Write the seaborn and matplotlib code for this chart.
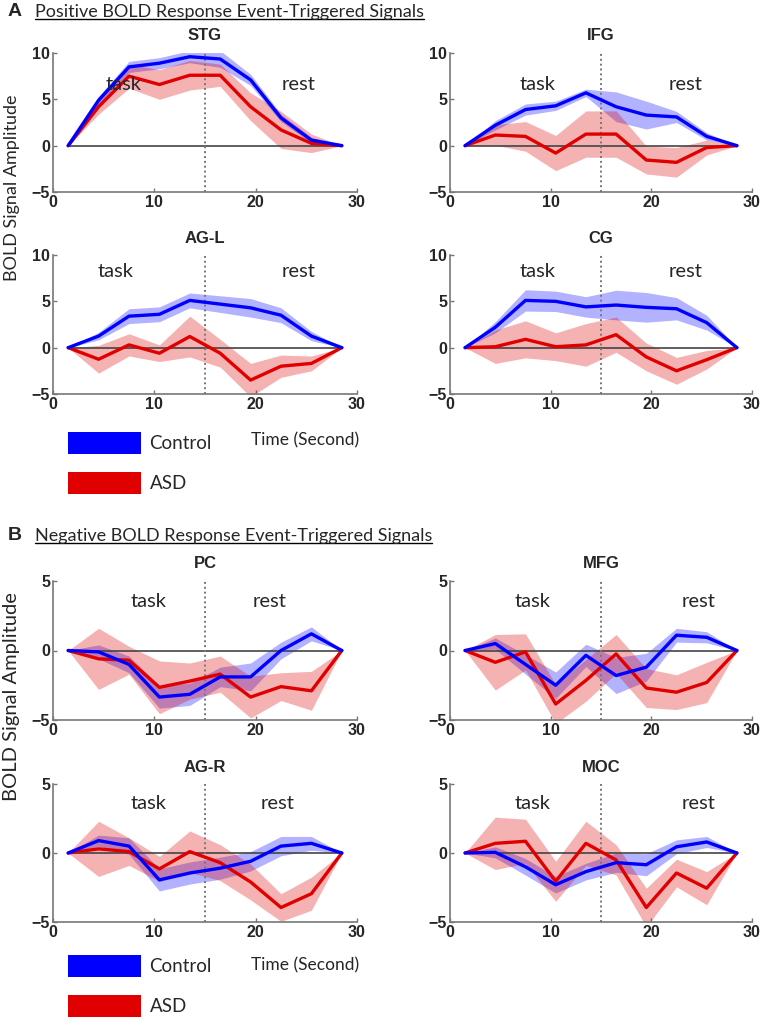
import matplotlib
matplotlib.use("Agg")
import matplotlib.pyplot as plt
import numpy as np
import pandas as pd
import seaborn as sns
from matplotlib.patches import Patch
from matplotlib.lines import Line2D

time = [1.5, 4.5, 7.5, 10.5, 13.5, 16.5, 19.5, 22.5, 25.5, 28.5]

stg_ctrl = [0, 4.9, 8.5, 8.9, 9.6, 9.35, 7.1, 3.0, 0.6, 0]
stg_ctrl_err = [0, 0.4, 0.6, 0.6, 0.65, 0.9, 0.6, 0.4, 0.3, 0]
stg_asd = [0, 4.2, 7.5, 6.6, 7.6, 7.6, 4.2, 1.7, 0.25, 0]
stg_asd_err = [0, 0.8, 1.3, 1.6, 1.6, 1.2, 1.5, 2.0, 1.0, 0]

ifg_ctrl = [0, 2.2, 3.9, 4.3, 5.7, 4.2, 3.3, 3.1, 1.0, 0]
ifg_ctrl_err = [0, 0.5, 0.6, 0.5, 0.4, 1.6, 1.5, 0.6, 0.4, 0]
ifg_asd = [0, 1.15, 1.0, -0.8, 1.25, 1.25, -1.55, -1.8, -0.2, 0]
ifg_asd_err = [0, 1.1, 1.6, 1.9, 2.5, 2.5, 1.5, 1.6, 0.8, 0]

agl_ctrl = [0, 1.25, 3.4, 3.6, 5.1, 4.7, 4.3, 3.5, 1.25, 0]
agl_ctrl_err = [0, 0.4, 0.8, 0.8, 0.8, 0.9, 1.0, 0.8, 0.5, 0]
agl_asd = [0, -1.25, 0.3, -0.6, 1.2, -0.6, -3.5, -2.0, -1.7, 0]
agl_asd_err = [0, 1.5, 1.2, 0.9, 2.2, 1.5, 1.8, 1.2, 0.8, 0]

cg_ctrl = [0, 2.2, 5.1, 5.0, 4.4, 4.6, 4.35, 4.2, 2.7, 0]
cg_ctrl_err = [0, 0.6, 1.15, 1.1, 1.1, 1.6, 1.6, 1.2, 0.8, 0]
cg_asd = [0, 0.1, 0.9, 0.1, 0.3, 1.4, -1.0, -2.5, -1.3, 0]
cg_asd_err = [0, 1.8, 2.0, 1.5, 2.3, 1.9, 1.5, 1.45, 1.0, 0]

pc_ctrl = [0, -0.1, -1.0, -3.35, -3.15, -1.9, -1.9, 0.0, 1.2, 0]
pc_ctrl_err = [0, 0.5, 0.6, 0.8, 0.8, 0.7, 1.0, 0.6, 0.5, 0]
pc_asd = [0, -0.6, -0.7, -2.65, -2.2, -1.7, -3.35, -2.6, -2.9, 0]
pc_asd_err = [0, 2.2, 1.0, 1.9, 1.3, 1.3, 1.5, 1.0, 1.4, 0]

mfg_ctrl = [0, 0.5, -1.0, -2.5, -0.35, -1.8, -1.2, 1.1, 0.95, 0]
mfg_ctrl_err = [0, 0.4, 0.7, 0.95, 0.8, 1.3, 1.0, 0.5, 0.4, 0]
mfg_asd = [0, -0.85, -0.1, -3.85, -2.15, -0.25, -2.7, -3.0, -2.3, 0]
mfg_asd_err = [0, 2.0, 1.3, 1.4, 1.5, 1.4, 1.4, 1.25, 1.45, 0]

agr_ctrl = [0, 0.9, 0.5, -1.95, -1.45, -1.1, -0.6, 0.5, 0.7, 0]
agr_ctrl_err = [0, 0.4, 0.6, 0.8, 0.8, 0.8, 0.7, 0.7, 0.5, 0]
agr_asd = [0, 0.3, 0.1, -1.15, 0.1, -0.7, -2.1, -3.95, -2.95, 0]
agr_asd_err = [0, 2.0, 1.0, 0.9, 1.5, 1.3, 1.3, 1.0, 1.2, 0]

moc_ctrl = [0, 0.05, -1.0, -2.3, -1.35, -0.7, -0.85, 0.45, 0.8, 0]
moc_ctrl_err = [0, 0.4, 0.6, 0.6, 0.6, 0.7, 0.8, 0.5, 0.4, 0]
moc_asd = [0, 0.7, 0.85, -2.05, 0.7, -0.5, -3.95, -1.45, -2.55, 0]
moc_asd_err = [0, 1.9, 1.6, 1.45, 1.6, 1.1, 1.4, 1.0, 1.2, 0]

# (name, control, control err, asd, asd err, task x, rest x, label y)
panels_a = [
    ("STG", stg_ctrl, stg_ctrl_err, stg_asd, stg_asd_err, 7.0, 24.2, 6.6),
    ("IFG", ifg_ctrl, ifg_ctrl_err, ifg_asd, ifg_asd_err, 8.7, 23.4, 6.6),
    ("AG-L", agl_ctrl, agl_ctrl_err, agl_asd, agl_asd_err, 6.2, 24.2, 8.2),
    ("CG", cg_ctrl, cg_ctrl_err, cg_asd, cg_asd_err, 8.7, 23.4, 8.2),
]
panels_b = [
    ("PC", pc_ctrl, pc_ctrl_err, pc_asd, pc_asd_err, 9.4, 21.4, 3.5),
    ("MFG", mfg_ctrl, mfg_ctrl_err, mfg_asd, mfg_asd_err, 8.25, 24.7, 3.5),
    ("AG-R", agr_ctrl, agr_ctrl_err, agr_asd, agr_asd_err, 9.4, 22.2, 3.6),
    ("MOC", moc_ctrl, moc_ctrl_err, moc_asd, moc_asd_err, 8.25, 24.7, 3.6),
]

BLUE = "#0000ff"
RED = "#e00000"
CAL = "Lato"

sns.set_theme(style="white")
plt.rcParams["font.family"] = ["Liberation Sans", "DejaVu Sans"]

W, H = 761, 1026
fig = plt.figure(figsize=(W / 100, H / 100), dpi=100)


def px_axes(left, top, right, bottom):
    return fig.add_axes([left / W, 1 - bottom / H, (right - left) / W, (bottom - top) / H])


def draw_panel(ax, name, ctrl, ctrl_err, asd, asd_err, tx, rx, ly, ylim, yticks):
    c = np.array(ctrl)
    ce = np.array(ctrl_err)
    a = np.array(asd)
    ae = np.array(asd_err)
    ax.fill_between(time, c - ce, c + ce, color=BLUE, alpha=0.3, lw=0)
    ax.fill_between(time, a - ae, a + ae, color=RED, alpha=0.3, lw=0)
    ax.plot([time[0], time[-1]], [0, 0], color="#444444", lw=1.2, zorder=1)
    df = pd.DataFrame({
        "time": time * 2,
        "signal": list(asd) + list(ctrl),
        "group": ["ASD"] * len(time) + ["Control"] * len(time),
    })
    sns.lineplot(data=df, x="time", y="signal", hue="group",
                 hue_order=["ASD", "Control"],
                 palette={"ASD": RED, "Control": BLUE},
                 errorbar=None, legend=False, lw=2.4, ax=ax, zorder=3)
    ax.axvline(15, color="#777777", lw=1.4, ls=(0, (1, 1.5)), zorder=2)
    ax.set_xlim(0, 30)
    ax.set_ylim(*ylim)
    ax.set_xticks([0, 10, 20, 30])
    ax.set_yticks(yticks)
    ax.set_xlabel("")
    ax.set_ylabel("")
    for s in ["top", "right"]:
        ax.spines[s].set_visible(False)
    for s in ["left", "bottom"]:
        ax.spines[s].set_color("#777777")
        ax.spines[s].set_linewidth(1.2)
    ax.tick_params(direction="in", length=3, width=1, color="#777777",
                   labelsize=11.5, pad=2, bottom=True, left=True)
    for lab in ax.get_xticklabels() + ax.get_yticklabels():
        lab.set_fontweight("bold")
    ax.set_title(name, fontsize=12, fontweight="bold", pad=9)
    ax.text(tx, ly, "task", ha="center", va="center", fontsize=14.5, family=CAL)
    ax.text(rx, ly, "rest", ha="center", va="center", fontsize=14.5, family=CAL)


cols = [(53, 357), (450, 752)]
rows_a = [(53, 192), (255, 394)]
rows_b = [(581, 720), (784, 922)]

for i, p in enumerate(panels_a):
    l, r = cols[i % 2]
    t, b = rows_a[i // 2]
    draw_panel(px_axes(l, t, r, b), *p, ylim=(-5, 10), yticks=[-5, 0, 5, 10])

for i, p in enumerate(panels_b):
    l, r = cols[i % 2]
    t, b = rows_b[i // 2]
    draw_panel(px_axes(l, t, r, b), *p, ylim=(-5, 5), yticks=[-5, 0, 5])

# section headings
heads = []
for letter, txt, y in [("A", "Positive BOLD Response Event-Triggered Signals", 12),
                       ("B", "Negative BOLD Response Event-Triggered Signals", 536)]:
    fig.text(8 / W, 1 - y / H, letter, fontsize=14, fontweight="bold", va="center")
    heads.append(fig.text(35 / W, 1 - y / H, txt, fontsize=13, family=CAL, va="center"))

# y labels and x labels
for yc, ysz, tc in [(188, 13, 440), (697, 14.5, 965)]:
    fig.text(12 / W, 1 - yc / H, "BOLD Signal Amplitude", rotation=90,
             fontsize=ysz, family=CAL, ha="center", va="center")
    fig.text(305 / W, 1 - tc / H, "Time (Second)", fontsize=12.5, family=CAL,
             ha="center", va="center")

# legends
handles = [Patch(facecolor=BLUE, edgecolor="none", label="Control"),
           Patch(facecolor=RED, edgecolor="none", label="ASD")]
for top in [432, 955]:
    fig.legend(handles=handles, loc="upper left", bbox_to_anchor=(68 / W, 1 - top / H),
               frameon=False, handlelength=3.9, handleheight=1.4, handletextpad=0.45,
               labelspacing=1.0, borderpad=0, borderaxespad=0,
               prop={"family": CAL, "size": 13.5})

# underline headings
fig.canvas.draw()
for t in heads:
    bb = t.get_window_extent().transformed(fig.transFigure.inverted())
    fig.add_artist(Line2D([bb.x0, bb.x1], [bb.y0 + 1 / H, bb.y0 + 1 / H],
                          color="black", lw=1, transform=fig.transFigure))

fig.savefig("out.png", dpi=100)
